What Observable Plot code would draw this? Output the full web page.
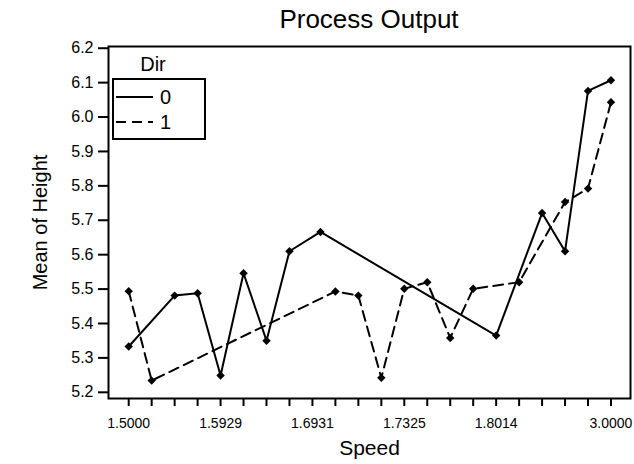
<!DOCTYPE html>
<html>
<head>
<meta charset="utf-8">
<script src="https://cdn.jsdelivr.net/npm/d3@7"></script>
<script src="https://cdn.jsdelivr.net/npm/@observablehq/plot@0.6"></script>
<style>
  body { margin: 0; background: #fff; font-family: "Liberation Sans", Arial, sans-serif; }
  #chart { position: relative; width: 634px; height: 464px; overflow: hidden; }
  #title { height: 40px; box-sizing: border-box; padding: 0 4px 0 108px; text-align: center;
           font-size: 26px; line-height: 38px; color: #000; }
  #legend { position: absolute; left: 0; top: 0; pointer-events: none; }
  svg { display: block; }
</style>
</head>
<body>
<div id="chart">
  <div id="title">Process Output</div>
</div>
<script>
// Speed levels are plotted as evenly spaced positions (0..21); only some carry a label.
const speedLevelCount = 22;
const speedTickPositions = [0, 4, 8, 12, 16, 21];
const speedTickLabels = ["1.5000", "1.5929", "1.6931", "1.7325", "1.8014", "3.0000"];

// Dir = 0 (solid line)
const dir0Pos = [0, 2, 3, 4, 5, 6, 7, 8.35, 16, 18, 19, 20, 21];
const dir0Height = [5.333, 5.481, 5.488, 5.249, 5.546, 5.350, 5.610, 5.666, 5.365, 5.721, 5.610, 6.076, 6.107];

// Dir = 1 (dashed line)
const dir1Pos = [0, 1, 9, 10, 11, 12, 13, 14, 15, 17, 19, 20, 21];
const dir1Height = [5.494, 5.234, 5.493, 5.481, 5.242, 5.501, 5.520, 5.358, 5.501, 5.520, 5.753, 5.792, 6.043];

const dirs = ["0", "1"];
const dashes = {"0": null, "1": "10,6"};

const rows = [
  ...dir0Pos.map((p, i) => ({pos: p, height: dir0Height[i], dir: "0"})),
  ...dir1Pos.map((p, i) => ({pos: p, height: dir1Height[i], dir: "1"}))
];

const labelAt = new Map(speedTickPositions.map((p, i) => [p, speedTickLabels[i]]));
const yTicks = d3.range(52, 63).map(v => v / 10);

const plot = Plot.plot({
  width: 634,
  height: 424,
  marginLeft: 108,
  marginRight: 4,
  marginTop: 6,
  marginBottom: 66,
  style: {fontFamily: "Liberation Sans, Arial, sans-serif", fontSize: "14px", color: "#000", background: "#fff"},
  x: {domain: [-0.88, 21.85]},
  y: {domain: [5.182, 6.205]},
  marks: [
    Plot.axisX({
      ticks: d3.range(speedLevelCount),
      tickFormat: d => labelAt.get(d) ?? "",
      tickSize: 8, tickPadding: 12, strokeWidth: 2, fontSize: 14, label: null
    }),
    Plot.axisY({
      ticks: yTicks, tickFormat: d3.format(".1f"),
      tickSize: 10, tickPadding: 5, strokeWidth: 2, fontSize: 16, label: null
    }),
    Plot.frame({stroke: "#000", strokeWidth: 2}),
    ...dirs.map(d => Plot.line(rows.filter(r => r.dir === d), {
      x: "pos", y: "height", stroke: "#000", strokeWidth: 2,
      strokeDasharray: dashes[d]
    })),
    Plot.dot(rows, {x: "pos", y: "height", symbol: "diamond2", r: 3.8, fill: "#000", stroke: null}),
    Plot.text(["Speed"], {frameAnchor: "bottom", dy: 56, fontSize: 21}),
    Plot.text(["Mean of Height"], {frameAnchor: "left", textAnchor: "middle", rotate: -90, dx: -68, fontSize: 20})
  ]
});
document.getElementById("chart").appendChild(plot);

// Legend box for Dir, drawn inside the plot frame
const leg = d3.select("#chart").append("svg")
  .attr("id", "legend").attr("width", 634).attr("height", 464);
leg.append("text").attr("x", 153).attr("y", 64).attr("text-anchor", "middle")
  .attr("dominant-baseline", "central").attr("font-size", 20).text("Dir");
leg.append("rect").attr("x", 113).attr("y", 79).attr("width", 92).attr("height", 60)
  .attr("fill", "#fff").attr("stroke", "#000").attr("stroke-width", 2);
dirs.forEach((d, i) => {
  const y = 97 + i * 25;
  leg.append("line").attr("x1", 116).attr("x2", 153).attr("y1", y).attr("y2", y)
    .attr("stroke", "#000").attr("stroke-width", 2)
    .attr("stroke-dasharray", dashes[d]);
  leg.append("text").attr("x", 160).attr("y", y).attr("dominant-baseline", "central")
    .attr("font-size", 20).text(d);
});
</script>
</body>
</html>
